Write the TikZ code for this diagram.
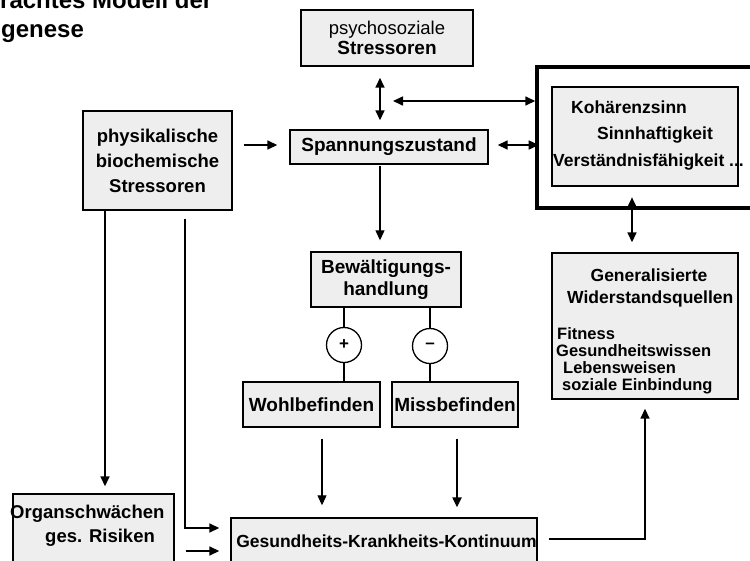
\documentclass[tikz,border=0pt]{standalone}
\usepackage{fontspec}
\setmainfont{Liberation Sans}
\usetikzlibrary{arrows.meta,calc}
\definecolor{boxgray}{HTML}{EEEEEE}
\begin{document}
\begin{tikzpicture}[x=1pt,y=-1pt,
  box/.style={draw=black,line width=1.4pt,fill=boxgray,inner sep=0pt,align=center,
    font=\bfseries\fontsize{19}{22}\selectfont},
  lbl/.style={inner sep=0pt,font=\bfseries\fontsize{17.5}{20}\selectfont},
  sml/.style={inner sep=0pt,font=\bfseries\fontsize{16.5}{18}\selectfont},
  conn/.style={line width=1.6pt},
  arr/.style={line width=1.6pt,-{Triangle[length=10pt,width=9pt]}},
  dbl/.style={line width=1.6pt,{Triangle[length=10pt,width=9pt]}-{Triangle[length=10pt,width=9pt]}},
  sign/.style={draw=black,circle,line width=1.3pt,fill=white,minimum size=35pt,inner sep=0pt,
    font=\bfseries\fontsize{17}{17}\selectfont}
]
\clip (0,0) rectangle (750,560);
\fill[white] (0,0) rectangle (750,560);

% title (cut off in the reference)
\node[anchor=base west,inner sep=0pt,font=\bfseries\fontsize{24}{28}\selectfont] (t1) at (0,8) {rachtes Modell der};
\node[anchor=base west,inner sep=0pt,font=\bfseries\fontsize{24}{28}\selectfont] (t2) at (1,37) {genese};

% boxes
\node[box,minimum width=172pt,minimum height=56pt] (psy) at (387,38)
  {{\mdseries\fontsize{18.5}{22}\selectfont psychosoziale}\\[-2pt]Stressoren};
\node[box,minimum width=198pt,minimum height=34pt] (spann) at (389,147) {Spannungszustand};
\node[box,minimum width=149pt,minimum height=99pt,font=\bfseries\fontsize{18.5}{25}\selectfont] (phys) at (157.5,160.5)
  {physikalische\\biochemische\\Stressoren};
\node[draw=black,line width=3.5pt,minimum width=223pt,minimum height=141pt,inner sep=0pt] (black) at (648.5,137.5) {};
\node[box,minimum width=186pt,minimum height=99pt] (koh) at (645,136.5) {};
\node[lbl,anchor=base west] (koh1) at (571,113) {Kohärenzsinn};
\node[lbl,anchor=base west] (koh2) at (597,139) {Sinnhaftigkeit};
\node[lbl,anchor=base west] (koh3) at (553,166) {Verständnisfähigkeit ...};

\node[box,minimum width=186pt,minimum height=146pt] (gen) at (645,326) {};
\node[lbl,anchor=base] (gen1) at (649,281) {Generalisierte};
\node[lbl,anchor=base west] (gen2) at (567,303) {Widerstandsquellen};
\node[sml,anchor=base west] (gen3) at (557,339) {Fitness};
\node[sml,anchor=base west] (gen4) at (556,356) {Gesundheitswissen};
\node[sml,anchor=base west] (gen5) at (563,373) {Lebensweisen};
\node[sml,anchor=base west] (gen6) at (562,390) {soziale Einbindung};

\node[box,minimum width=150pt,minimum height=55pt] (bew) at (386,279.5)
  {Bewältigungs-\\handlung};
\node[sign] (plus) at (344,345) {+};
\node[sign] (minus) at (430,346) {–};
\node[box,minimum width=137pt,minimum height=45pt] (wohl) at (311.5,404.5) {Wohlbefinden};
\node[box,minimum width=126pt,minimum height=45pt] (miss) at (455,404.5) {Missbefinden};
\node[box,minimum width=306pt,minimum height=52pt] (ges) at (384,544) {};
\node[inner sep=0pt,anchor=base,font=\bfseries\fontsize{17.5}{20}\selectfont] (gestxt) at (386.5,547) {Gesundheits-Krankheits-Kontinuum};
\node[box,minimum width=161pt,minimum height=76pt] (organ) at (93.5,532) {};
\node[inner sep=0pt,anchor=base west,font=\bfseries\fontsize{18.5}{22}\selectfont] (org1) at (10,518) {Organschwächen};
\node[inner sep=0pt,anchor=base west,font=\bfseries\fontsize{18.5}{22}\selectfont] (org2) at (45,542) {ges. Risiken};

% connectors
\coordinate (c1) at (393,101);
\draw[dbl] (c1) -- (c1 -| black.west);
\draw[dbl] ($(psy.south)+(-7,11)$) -- ($(spann.north)+(-9,-9)$);
\draw[dbl] ($(spann.east)+(9,-2)$) -- ($(spann.east)+(50,-2)$);
\draw[dbl] ($(gen.north)+(-13,-55)$) -- ($(gen.north)+(-13,-10)$);
\draw[arr] ($(phys.east)+(11,-15.5)$) -- ($(spann.west)+(-12,-2)$);
\draw[arr,line width=1.1pt] ($(spann.south)+(-9,1)$) -- ($(bew.north)+(-6,-11)$);
\draw[conn] ($(bew.south)+(-42,0)$) -- (plus.north);
\draw[conn] (plus.south) -- (wohl.north -| plus.south);
\draw[conn,line width=1.2pt] ($(bew.south)+(44,0)$) -- (minus.north);
\draw[conn,line width=1.2pt] (minus.south) -- (miss.north -| minus.south);
\draw[arr,line width=1.1pt] ($(wohl.south)+(10.5,11)$) -- ($(ges.north)+(-62,-12)$);
\draw[arr,line width=2.2pt] ($(miss.south)+(2,11)$) -- ($(ges.north)+(73,-10)$);
\draw[arr] ($(phys.south)+(-52.5,0)$) -- ($(organ.north)+(11.5,-7)$);
\draw[arr] ($(phys.south)+(27.5,8)$) |- ($(ges.west)+(-11,-16)$);
\draw[arr] ($(organ.east)+(11,19)$) -- ($(ges.west)+(-11,7)$);
\draw[arr] ($(ges.east)+(11,-5)$) -| ($(gen.south)+(0,9)$);
\end{tikzpicture}
\end{document}
